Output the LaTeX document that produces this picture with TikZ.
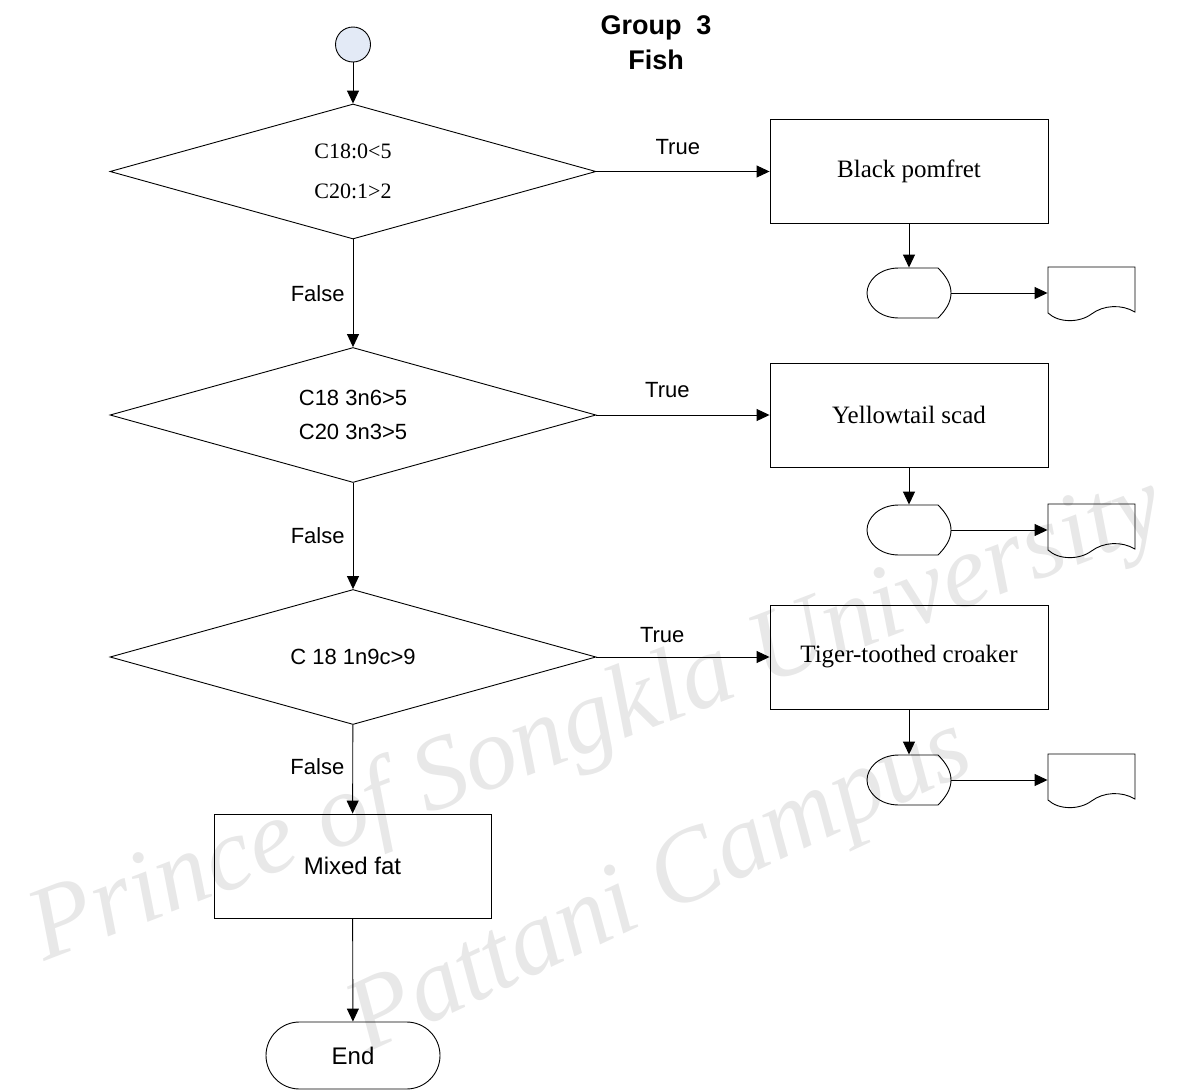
\documentclass[tikz,border=0pt]{standalone}
\usepackage{fontspec}
\setmainfont{Liberation Serif}
\setsansfont{Liberation Sans}
\usetikzlibrary{shapes.geometric,shapes.misc,arrows.meta}

% outline of the display symbol, drawn round a named node
\newcommand{\dispshape}[1]{%
  \draw[shift={(#1.center)}] (-10,-25) -- (29,-25)
    .. controls (37,-17) and (42,-9) .. (42,0)
    .. controls (42,9) and (37,17) .. (29,25) -- (-10,25)
    .. controls (-30,25) and (-42,12) .. (-42,0)
    .. controls (-42,-12) and (-30,-25) .. cycle;}
% outline of the document symbol
\newcommand{\docshape}[1]{%
  \draw[shift={(#1.center)}] (-43.5,20) -- (-43.5,-26) -- (43.5,-26) -- (43.5,19)
    .. controls (30,11) and (12,12) .. (0,21)
    .. controls (-12,30) and (-33,30) .. cycle;}

\begin{document}
\begin{tikzpicture}[x=1pt,y=-1pt,line width=0.9pt,
    arr/.style={-{Triangle[length=13pt,width=12pt]}},
    decision/.style={diamond,draw,inner sep=0pt,aspect=3.6,minimum width=486pt,minimum height=135pt,align=center},
    fishbox/.style={rectangle,draw,inner sep=0pt,minimum width=278pt,minimum height=104pt,font=\fontsize{25}{28}\selectfont},
    dispbox/.style={rectangle,inner sep=0pt,minimum width=84pt,minimum height=50pt},
    docbox/.style={rectangle,inner sep=0pt,minimum width=87pt,minimum height=52pt},
    lab/.style={inner sep=0pt,font=\sffamily\fontsize{22}{26}\selectfont},
    wmark/.style={text=black!9,font=\itshape\fontsize{104}{104}\selectfont}]
  \useasboundingbox (0,0) rectangle (1195,1090);

  % watermark
  \node[wmark,rotate=21] (wmA) at (598,722) {Prince of Songkla University};
  \node[wmark,rotate=25] (wmB) at (662,890) {Pattani Campus};

  \node[font=\sffamily\bfseries\fontsize{27}{35}\selectfont,align=center] (title) at (656,43) {Group\ \ 3\\Fish};

  \node[circle,draw,fill={rgb,255:red,227;green,234;blue,246},minimum size=35pt,inner sep=0pt] (start) at (353,44.5) {};

  \node[decision,font=\fontsize{22}{40}\selectfont] (c1) at (353,171.5) {C18:0<5\\C20:1>2};
  \node[decision,font=\sffamily\fontsize{22}{34}\selectfont] (c2) at (353,415) {C18 3n6>5\\C20 3n3>5};
  \node[decision,font=\sffamily\fontsize{22}{26}\selectfont] (c3) at (353,657) {C 18 1n9c>9};

  \node[fishbox] (b1) at (909,171.5) {Black pomfret};
  \node[fishbox] (b2) at (909,415) {Yellowtail scad};
  \node[fishbox] (b3) at (909,657) {Tiger-toothed croaker};

  \node[dispbox] (d1) at (909,293) {};
  \node[dispbox] (d2) at (909,530) {};
  \node[dispbox] (d3) at (909,780) {};
  \node[docbox] (p1) at (1091.5,293) {};
  \node[docbox] (p2) at (1091.5,530) {};
  \node[docbox] (p3) at (1091.5,780) {};
  \dispshape{d1} \dispshape{d2} \dispshape{d3}
  \docshape{p1} \docshape{p2} \docshape{p3}

  \node[fishbox,minimum width=277pt,font=\sffamily\fontsize{24}{28}\selectfont] (mix) at (352.5,866) {Mixed fat};
  \node[rounded rectangle,draw,inner sep=0pt,minimum width=174pt,minimum height=67pt,font=\sffamily\fontsize{24}{28}\selectfont] (end) at (353,1055.5) {End};

  \draw (start) edge[arr] (c1);
  \draw (c1) edge[arr] node[lab,pos=0.47,above=16pt]{True} (b1);
  \draw (c2) edge[arr] node[lab,pos=0.41,above=17pt]{True} (b2);
  \draw (c3) edge[arr] node[lab,pos=0.38,above=14pt]{True} (b3);
  \draw (c1) edge[arr] node[lab,pos=0.5,left=8pt]{False} (c2);
  \draw (c2) edge[arr] node[lab,pos=0.5,left=8pt]{False} (c3);
  \draw (c3) edge[arr] node[lab,pos=0.47,left=8pt]{False} (mix);
  \draw (mix) edge[arr] (end);

  \draw (b1) edge[arr] (d1);
  \draw (b2) edge[arr] (d2);
  \draw (b3) edge[arr] (d3);
  \draw (d1) edge[arr] (p1);
  \draw (d2) edge[arr] (p2);
  \draw (d3) edge[arr] (p3);
\end{tikzpicture}
\end{document}
